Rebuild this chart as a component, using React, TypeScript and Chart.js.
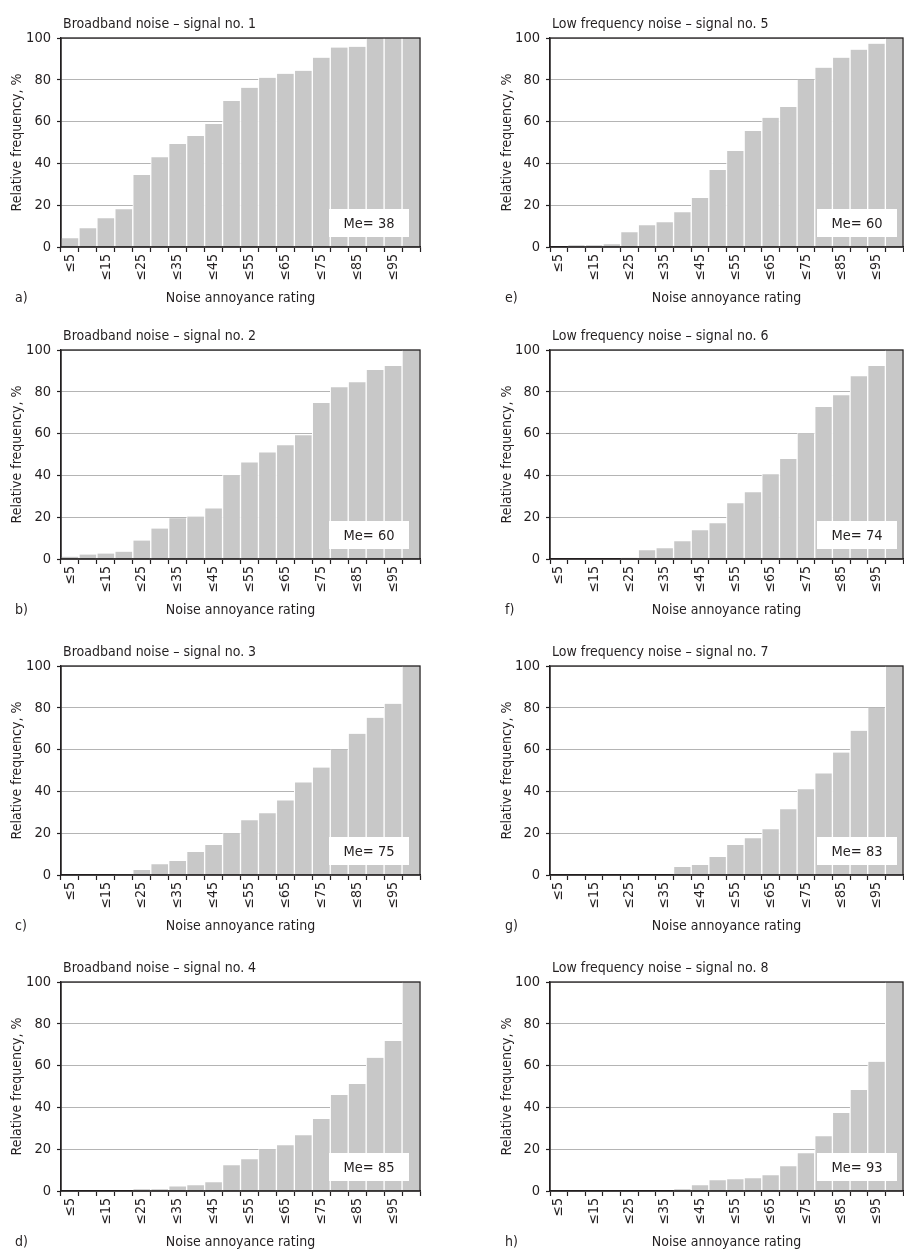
import React, { useEffect, useRef } from 'react';
import { Chart, registerables } from 'chart.js';

Chart.register(...registerables);

// ---------- data ----------
const categories = ['≤5', '≤10', '≤15', '≤20', '≤25', '≤30', '≤35', '≤40', '≤45', '≤50', '≤55', '≤60', '≤65', '≤70', '≤75', '≤80', '≤85', '≤90', '≤95', '≤100'];

const yTicks = [0, 20, 40, 60, 80, 100];

const titles = [
  'Broadband noise – signal no. 1',
  'Broadband noise – signal no. 2',
  'Broadband noise – signal no. 3',
  'Broadband noise – signal no. 4',
  'Low frequency noise – signal no. 5',
  'Low frequency noise – signal no. 6',
  'Low frequency noise – signal no. 7',
  'Low frequency noise – signal no. 8',
];

const panelLetters = ['a)', 'b)', 'c)', 'd)', 'e)', 'f)', 'g)', 'h)'];

const signal1 = [4.2, 9.0, 13.8, 18.1, 34.4, 43.0, 49.3, 53.1, 58.9, 69.9, 76.2, 81.0, 82.9, 84.3, 90.6, 95.4, 95.8, 100, 100, 100];
const signal2 = [1.1, 2.1, 2.6, 3.5, 8.8, 14.6, 19.5, 20.3, 24.2, 40.2, 46.2, 51.0, 54.4, 59.2, 74.6, 82.2, 84.6, 90.4, 92.3, 100];
const signal3 = [0, 0, 0, 0.3, 2.4, 5.2, 6.7, 11.0, 14.3, 20.0, 26.2, 29.5, 35.7, 44.3, 51.4, 60.0, 67.6, 75.2, 81.9, 100];
const signal4 = [0, 0, 0, 0, 0.8, 0.8, 2.2, 2.7, 4.2, 12.3, 15.2, 20.0, 21.9, 26.7, 34.4, 45.9, 51.2, 63.7, 71.8, 100];
const signal5 = [0, 0.8, 0.8, 1.3, 7.0, 10.4, 11.8, 16.6, 23.4, 36.8, 45.9, 55.5, 61.8, 67.0, 80.0, 85.8, 90.6, 94.4, 97.3, 100];
const signal6 = [0, 0, 0, 0, 0.6, 4.2, 5.1, 8.5, 13.7, 17.1, 26.7, 31.9, 40.6, 47.8, 60.2, 72.7, 78.4, 87.5, 92.3, 100];
const signal7 = [0, 0, 0, 0, 0, 0, 0, 3.8, 4.8, 8.6, 14.3, 17.6, 21.9, 31.4, 41.0, 48.6, 58.6, 69.0, 80.0, 100];
const signal8 = [0, 0, 0, 0, 0, 0, 0, 0.8, 2.7, 5.1, 5.6, 6.1, 7.5, 11.8, 18.1, 26.2, 37.3, 48.3, 61.8, 100];

const series = [signal1, signal2, signal3, signal4, signal5, signal6, signal7, signal8];

const medians = [38, 60, 75, 85, 60, 74, 83, 93];

const xAxisTitle = 'Noise annoyance rating';
const yAxisTitle = 'Relative frequency, %';

// ---------- style / layout ----------
const FONT = "'DejaVu Sans Condensed', 'DejaVu Sans', sans-serif";
const TEXT = '#231f20';
const BAR = '#c8c8c8';
const GRID = '#b4b4b4';
const FRAME = '#231f20';

const rowTops = [0, 312, 628, 944];
const colLefts = [0, 490];
const colWidths = [440, 430];
const colPadRight = [20, 17];
const colYWidth = [61, 60];
const colMeGap = [11, 6];
const CANVAS_H = 310;

function makeDecor(title: string, letter: string, median: number, meGap: number) {
  return {
    id: 'panelDecor',
    afterDatasetsDraw(chart: any) {
      const { ctx, chartArea } = chart;
      const { left, right, top, bottom } = chartArea;
      ctx.save();
      // Me box
      const bw = 80;
      const bh = 28;
      const bx = right - meGap - bw;
      const by = bottom - 10 - bh;
      ctx.fillStyle = '#ffffff';
      ctx.fillRect(bx, by, bw, bh);
      ctx.fillStyle = TEXT;
      ctx.font = `14.5px ${FONT}`;
      ctx.textAlign = 'center';
      ctx.textBaseline = 'middle';
      ctx.fillText(`Me= ${median}`, bx + bw / 2, by + bh / 2 + 1);
      // frame
      ctx.strokeStyle = FRAME;
      ctx.lineWidth = 1.3;
      ctx.strokeRect(left, top, right - left, bottom - top);
      // title
      ctx.textAlign = 'left';
      ctx.textBaseline = 'alphabetic';
      ctx.font = `14px ${FONT}`;
      ctx.fillText(title, left + 2, 28);
      // panel letter
      ctx.textBaseline = 'middle';
      ctx.fillText(letter, 15, 298);
      ctx.restore();
    },
  };
}

function Panel({ index }: { index: number }) {
  const ref = useRef<HTMLCanvasElement | null>(null);
  const col = index < 4 ? 0 : 1;
  const row = index % 4;
  const width = colWidths[col];

  useEffect(() => {
    if (!ref.current) return;
    const chart = new Chart(ref.current, {
      type: 'bar',
      data: {
        labels: categories,
        datasets: [
          {
            data: series[index],
            backgroundColor: BAR,
            borderColor: '#ffffff',
            borderWidth: { left: 1, right: 1, top: 0, bottom: 0 } as any,
            borderSkipped: 'start',
            barPercentage: 1,
            categoryPercentage: 1,
          },
        ],
      },
      options: {
        animation: false,
        responsive: false,
        maintainAspectRatio: false,
        layout: { padding: { top: 38, left: 0, right: colPadRight[col], bottom: 3 } },
        plugins: {
          legend: { display: false },
          tooltip: { enabled: false },
          title: { display: false },
        },
        scales: {
          x: {
            offset: true,
            grid: {
              display: true,
              drawOnChartArea: false,
              drawTicks: true,
              tickLength: 5,
              tickColor: FRAME,
              tickWidth: 1.2,
              offset: true,
            },
            border: { display: true, color: FRAME, width: 1.3 },
            ticks: {
              autoSkip: false,
              maxRotation: 90,
              minRotation: 90,
              padding: 2,
              color: TEXT,
              font: { family: FONT, size: 14 },
              callback: (_v: any, i: number) => (i % 2 === 0 ? categories[i] : ''),
            },
            title: {
              display: true,
              text: xAxisTitle,
              color: TEXT,
              font: { family: FONT, size: 14 },
              padding: 0,
            },
            afterFit: (s: any) => {
              s.height = 60;
            },
          },
          y: {
            min: 0,
            max: 100,
            afterBuildTicks: (s: any) => {
              s.ticks = yTicks.map((v) => ({ value: v }));
            },
            ticks: {
              stepSize: 20,
              color: TEXT,
              padding: 6,
              font: { family: FONT, size: 14.5 },
            },
            grid: {
              color: GRID,
              lineWidth: 1,
              tickColor: FRAME,
              tickLength: 4,
              tickWidth: 1.2,
            },
            border: { display: true, color: FRAME, width: 1.3 },
            title: {
              display: true,
              text: yAxisTitle,
              color: TEXT,
              font: { family: FONT, size: 14 },
              padding: { top: 9, bottom: 0 },
            },
            afterFit: (s: any) => {
              s.width = colYWidth[col];
            },
          },
        },
      } as any,
      plugins: [makeDecor(titles[index], panelLetters[index], medians[index], colMeGap[col])],
    });
    return () => chart.destroy();
  }, [index]);

  return (
    <canvas
      ref={ref}
      width={width}
      height={CANVAS_H}
      style={{
        position: 'absolute',
        left: colLefts[col],
        top: rowTops[row],
        width,
        height: CANVAS_H,
      }}
    />
  );
}

export default function App() {
  return (
    <div
      style={{
        position: 'absolute',
        left: 0,
        top: 0,
        width: 904,
        height: 1253,
        overflow: 'hidden',
        background: '#ffffff',
      }}
    >
      {[0, 1, 2, 3, 4, 5, 6, 7].map((i) => (
        <Panel key={i} index={i} />
      ))}
    </div>
  );
}
